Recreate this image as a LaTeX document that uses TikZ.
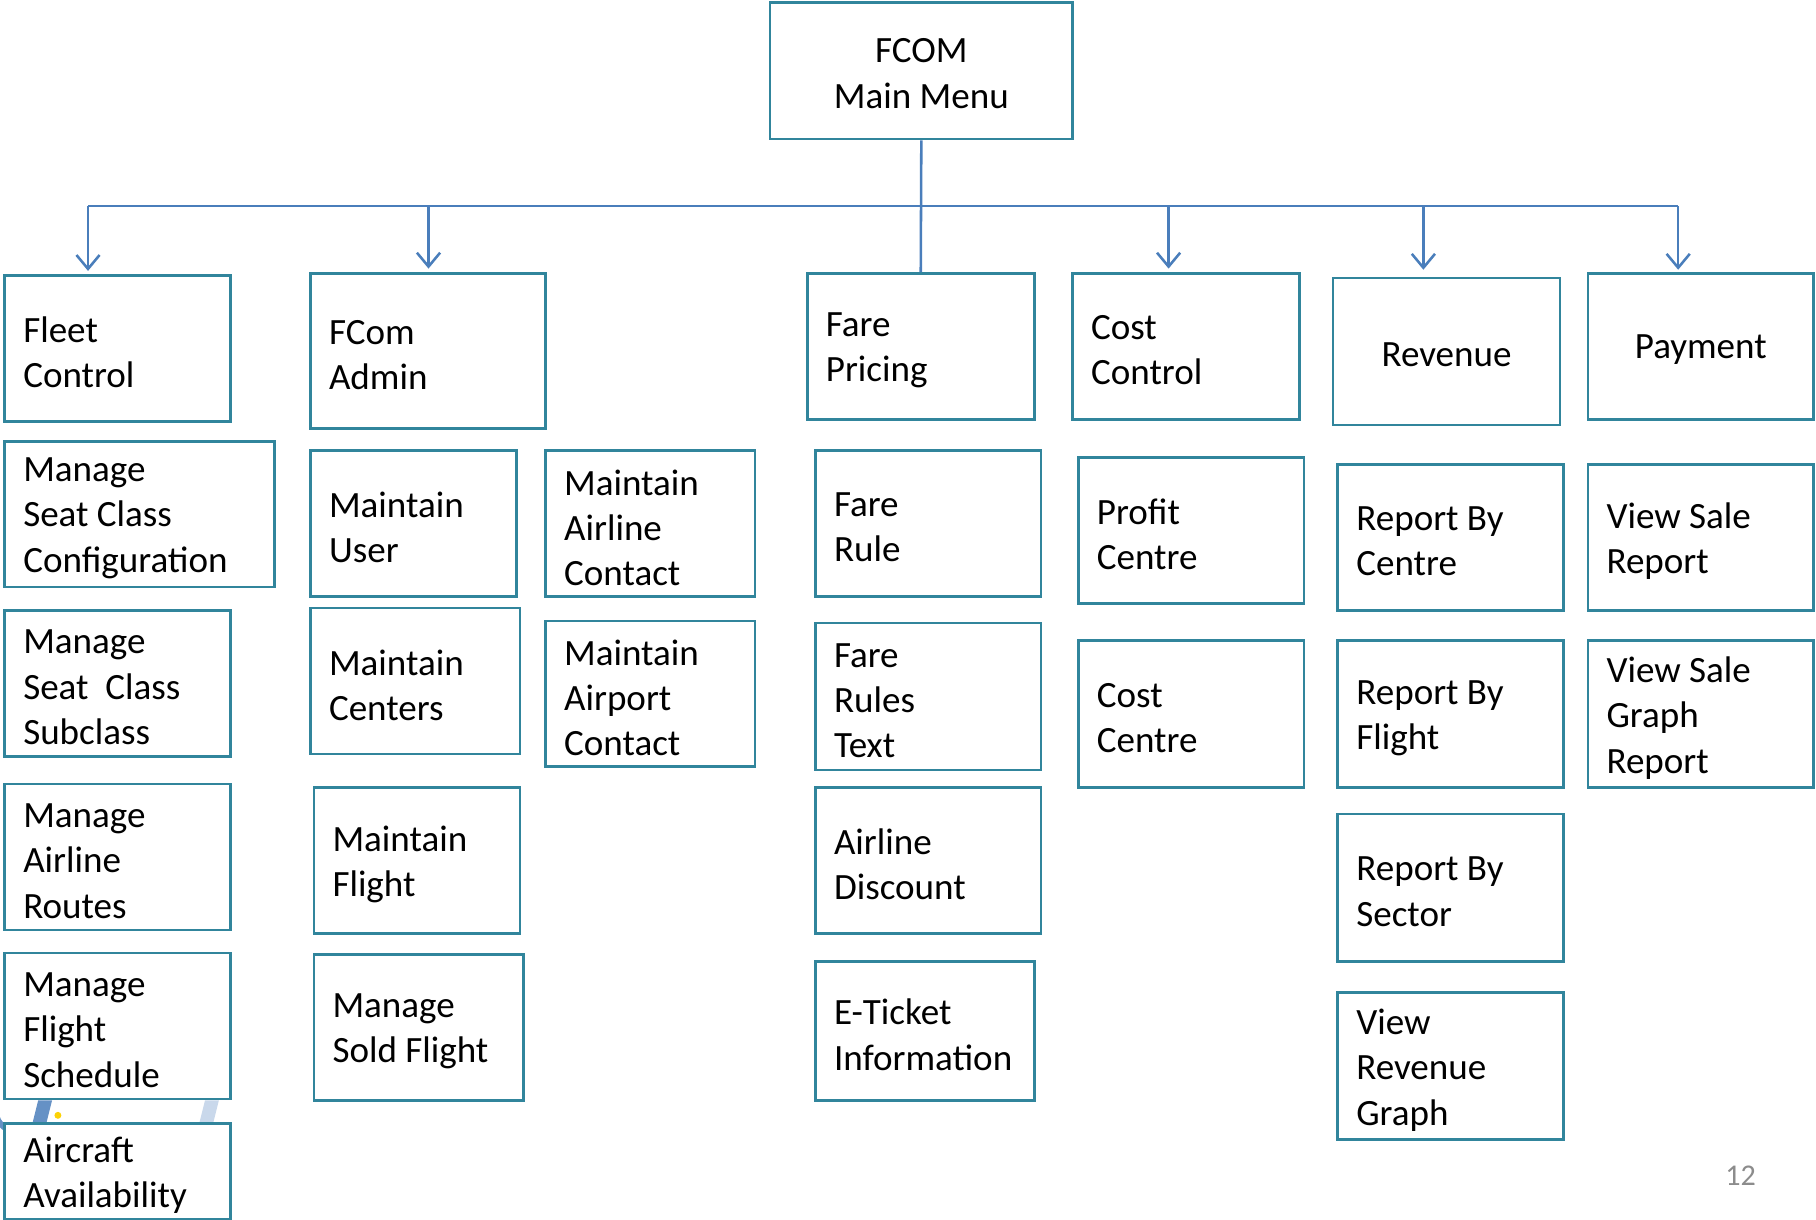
\documentclass[tikz,border=0pt]{standalone}
\usepackage{fontspec}
\setmainfont{Carlito}
\usetikzlibrary{arrows.meta}
\definecolor{conn}{HTML}{4A7EBB}
\definecolor{bord}{HTML}{31859C}
\definecolor{pgnum}{HTML}{8C8C8C}
\tikzset{
 box/.style={draw=bord, line width=2.2pt, fill=white, rectangle, inner sep=0pt},
 lbl/.style={inner sep=0pt, align=left, font=\fontsize{32}{39}\selectfont, anchor=west},
 clbl/.style={inner sep=0pt, align=center, font=\fontsize{32}{39}\selectfont},
 link/.style={draw=conn, line width=2.2pt},
 arr/.style={link, -{Straight Barb[length=12pt,width=20pt,line width=2.2pt]}},
}
\newcommand{\mybox}[6]{%
 \node[box, minimum width={(#4-#2)*1pt}, minimum height={(#5-#3)*1pt}] (#1) at ({(#2+#4)/2},{(#3+#5)/2}) {};
 \node[lbl] (#1t) at ([xshift=17pt,yshift=-3.5pt]#1.west) {#6};
}
\newcommand{\myboxc}[6]{%
 \node[box, minimum width={(#4-#2)*1pt}, minimum height={(#5-#3)*1pt}] (#1) at ({(#2+#4)/2},{(#3+#5)/2}) {};
 \node[clbl] (#1t) at ([yshift=-2.5pt]#1.center) {#6};
}
\begin{document}
\begin{tikzpicture}[x=1pt,y=-1pt]
\useasboundingbox (0,0) rectangle (1568,1053);
% background artifact
\fill[conn!85] (28,970)--(33,950)--(45,950)--(40,970)--cycle;
\fill[yellow!70!orange] (50,963) circle (3);
\fill[conn!30] (172,970)--(177,950)--(189,950)--(184,970)--cycle;
\draw[conn!85, line width=5pt] (6,975) arc[start angle=120, end angle=200, radius=20];
% main
\myboxc{main}{665}{2}{926}{120}{FCOM\\Main Menu}
% headers
\mybox{fc}{4}{238}{199}{364}{Fleet\\Control}
\mybox{fa}{268}{236}{471}{370}{FCom\\Admin}
\mybox{fp}{697}{236}{893}{362}{Fare\\Pricing}
\mybox{cc}{926}{236}{1122}{362}{Cost\\Control}
\myboxc{rv}{1151}{240}{1347}{367}{Revenue}
\myboxc{pm}{1371}{236}{1566}{362}{Payment}
% fleet column
\mybox{f1}{4}{381}{237}{507}{Manage\\Seat Class\\Configuration}
\mybox{f2}{4}{527}{199}{653}{Manage\\Seat\ \ Class\\Subclass}
\mybox{f3}{4}{677}{199}{803}{Manage\\Airline\\Routes}
\mybox{f4}{4}{823}{199}{949}{Manage\\Flight\\Schedule}
\mybox{f5}{4}{970}{199}{1053}{Aircraft\\Availability}
% admin columns
\mybox{a1}{268}{389}{446}{515}{Maintain\\User}
\mybox{a2}{268}{525}{449}{651}{Maintain\\Centers}
\mybox{a3}{271}{680}{449}{806}{Maintain\\Flight}
\mybox{a4}{271}{824}{452}{950}{Manage\\Sold Flight}
\mybox{b1}{471}{389}{652}{515}{Maintain\\Airline\\Contact}
\mybox{b2}{471}{536}{652}{662}{Maintain\\Airport\\Contact}
% fare column
\mybox{p1}{704}{389}{899}{515}{Fare\\Rule}
\mybox{p2}{704}{538}{899}{665}{Fare\\Rules\\Text}
\mybox{p3}{704}{680}{899}{806}{Airline\\Discount}
\mybox{p4}{704}{830}{893}{950}{E-Ticket\\Information}
% cost column
\mybox{c1}{931}{395}{1126}{521}{Profit\\Centre}
\mybox{c2}{931}{553}{1126}{680}{Cost\\Centre}
% revenue column
\mybox{r1}{1155}{401}{1350}{527}{Report By\\Centre}
\mybox{r2}{1155}{553}{1350}{680}{Report By\\Flight}
\mybox{r3}{1155}{703}{1350}{830}{Report By\\Sector}
\mybox{r4}{1155}{857}{1350}{984}{View\\Revenue\\Graph}
% payment column
\mybox{y1}{1371}{401}{1566}{527}{View Sale\\Report}
\mybox{y2}{1371}{553}{1566}{680}{View Sale\\Graph\\Report}
% connectors
\coordinate (bl) at (76,178);
\coordinate (bfa) at (370,178);
\coordinate (bcc) at (1009,178);
\coordinate (brv) at (1229,178);
\coordinate (br) at (1449,178);
\draw[link] (bl) -- (br);
\draw[link] (main.south) -- (fp.north);
\draw[arr] (bl) -- ([yshift=3pt]bl |- fc.north);
\draw[arr] (bfa) -- ([yshift=3pt]bfa |- fa.north);
\draw[arr] (bcc) -- ([yshift=3pt]bcc |- cc.north);
\draw[arr] (brv) -- ([yshift=6pt]brv |- rv.north);
\draw[arr] (br) -- ([yshift=2pt]br |- pm.north);
% page number
\node[text=pgnum, font=\fontsize{26}{30}\selectfont, inner sep=0pt] (pg) at (1503,1015) {12};
\end{tikzpicture}
\end{document}
